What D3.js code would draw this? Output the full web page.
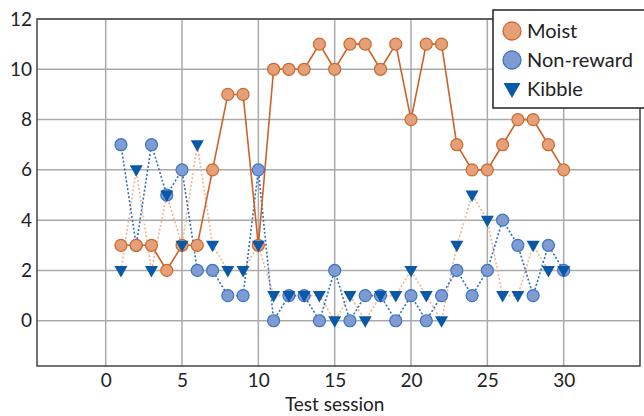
<!DOCTYPE html>
<html>
<head>
<meta charset="utf-8">
<script src="https://cdn.jsdelivr.net/npm/d3@7"></script>
<style>
  body { margin: 0; background: #fff; }
  text { font-family: "Lato", "DejaVu Sans", sans-serif; fill: #222; }
</style>
</head>
<body>
<div id="chart"></div>
<script>
// data
var sessions  = [1,2,3,4,5,6,7,8,9,10,11,12,13,14,15,16,17,18,19,20,21,22,23,24,25,26,27,28,29,30];
var moist     = [3,3,3,2,3,3,6,9,9,3,10,10,10,11,10,11,11,10,11,8,11,11,7,6,6,7,8,8,7,6];
var nonReward = [7,3,7,5,6,2,2,1,1,6,0,1,1,0,2,0,1,1,0,1,0,1,2,1,2,4,3,1,3,2];
var kibble    = [2,6,2,5,3,7,3,2,2,3,1,1,1,1,0,1,0,1,1,2,1,0,3,5,4,1,1,3,2,2];
var xTicks = [0,5,10,15,20,25,30];
var yTicks = [0,2,4,6,8,10,12];

var W = 644, H = 416;
var margin = {top: 19, right: 4, bottom: 50, left: 37};
var width = W - margin.left - margin.right,
    height = H - margin.top - margin.bottom;

var svg = d3.select("#chart").append("svg")
    .attr("width", W).attr("height", H);
var g = svg.append("g")
    .attr("transform", "translate(" + margin.left + "," + margin.top + ")");

var x = d3.scaleLinear().domain([-4.5, 35]).range([0, width]);
var y = d3.scaleLinear().domain([-1.8, 12]).range([height, 0]);

// grid
g.selectAll(".vg").data(xTicks).enter().append("line")
    .attr("x1", d => x(d)).attr("x2", d => x(d))
    .attr("y1", 0).attr("y2", height)
    .style("stroke", "#aaa").style("stroke-width", 1.5);
g.selectAll(".hg").data(yTicks).enter().append("line")
    .attr("x1", 0).attr("x2", width)
    .attr("y1", d => y(d)).attr("y2", d => y(d))
    .style("stroke", "#aaa").style("stroke-width", 1.5);

// axes
var xAxis = g.append("g")
    .attr("transform", "translate(0," + height + ")")
    .call(d3.axisBottom(x).tickValues(xTicks).tickSize(0).tickPadding(8));
var yAxis = g.append("g")
    .call(d3.axisLeft(y).tickValues(yTicks).tickSize(0).tickPadding(5));
[xAxis, yAxis].forEach(function(a) {
  a.select(".domain").remove();
  a.selectAll(".tick text").style("font-size", "19px").style("fill", "#222");
});

// frame
g.append("rect").attr("width", width).attr("height", height)
    .style("fill", "none").style("stroke", "#444").style("stroke-width", 1.5);

// lines
var line = function(vals) {
  return d3.line().x((d, i) => x(sessions[i])).y(d => y(d))(vals);
};
g.append("path").attr("d", line(kibble))
    .style("fill", "none").style("stroke", "#f3b48e").style("stroke-width", 1.6)
    .style("stroke-dasharray", "2,2");
g.append("path").attr("d", line(nonReward))
    .style("fill", "none").style("stroke", "#2f6fbf").style("stroke-width", 1.6)
    .style("stroke-dasharray", "2,2");
g.append("path").attr("d", line(moist))
    .style("fill", "none").style("stroke", "#cd6228").style("stroke-width", 1.6);

// markers
g.selectAll(".nr").data(nonReward).enter().append("circle")
    .attr("cx", (d, i) => x(sessions[i])).attr("cy", d => y(d)).attr("r", 6)
    .style("fill", "#7f9bd2").style("stroke", "#3a74c2").style("stroke-width", 1.2);
g.selectAll(".mo").data(moist).enter().append("circle")
    .attr("cx", (d, i) => x(sessions[i])).attr("cy", d => y(d)).attr("r", 6)
    .style("fill", "#e5a077").style("stroke", "#cb6a30").style("stroke-width", 1.2);
var tri = "M-6.5,-4.5L6.5,-4.5L0,7Z";
g.selectAll(".kb").data(kibble).enter().append("path")
    .attr("d", tri)
    .attr("transform", (d, i) => "translate(" + x(sessions[i]) + "," + y(d) + ")")
    .style("fill", "#0a58a8");

// legend
var leg = svg.append("g");
leg.append("rect").attr("x", 493).attr("y", 10).attr("width", 170).attr("height", 98)
    .style("fill", "#fff").style("stroke", "#222").style("stroke-width", 1.5);
var items = [
  {name: "Moist", fill: "#e5a077", stroke: "#cb6a30", shape: "c"},
  {name: "Non-reward", fill: "#7f9bd2", stroke: "#3a74c2", shape: "c"},
  {name: "Kibble", fill: "#0a58a8", stroke: "none", shape: "t"}
];
items.forEach(function(it, i) {
  var cy = 31 + i * 29;
  if (it.shape == "c") {
    leg.append("circle").attr("cx", 512).attr("cy", cy).attr("r", 9)
        .style("fill", it.fill).style("stroke", it.stroke).style("stroke-width", 1.3);
  } else {
    leg.append("path").attr("d", "M-8.5,-6L8.5,-6L0,9Z")
        .attr("transform", "translate(512," + cy + ")").style("fill", it.fill);
  }
  leg.append("text").attr("x", 527).attr("y", cy + 7)
      .style("font-size", "20px").text(it.name);
});

// x label
svg.append("text")
    .attr("x", margin.left + x(15)).attr("y", 411)
    .attr("text-anchor", "middle")
    .style("font-size", "19px")
    .text("Test session");
</script>
</body>
</html>
